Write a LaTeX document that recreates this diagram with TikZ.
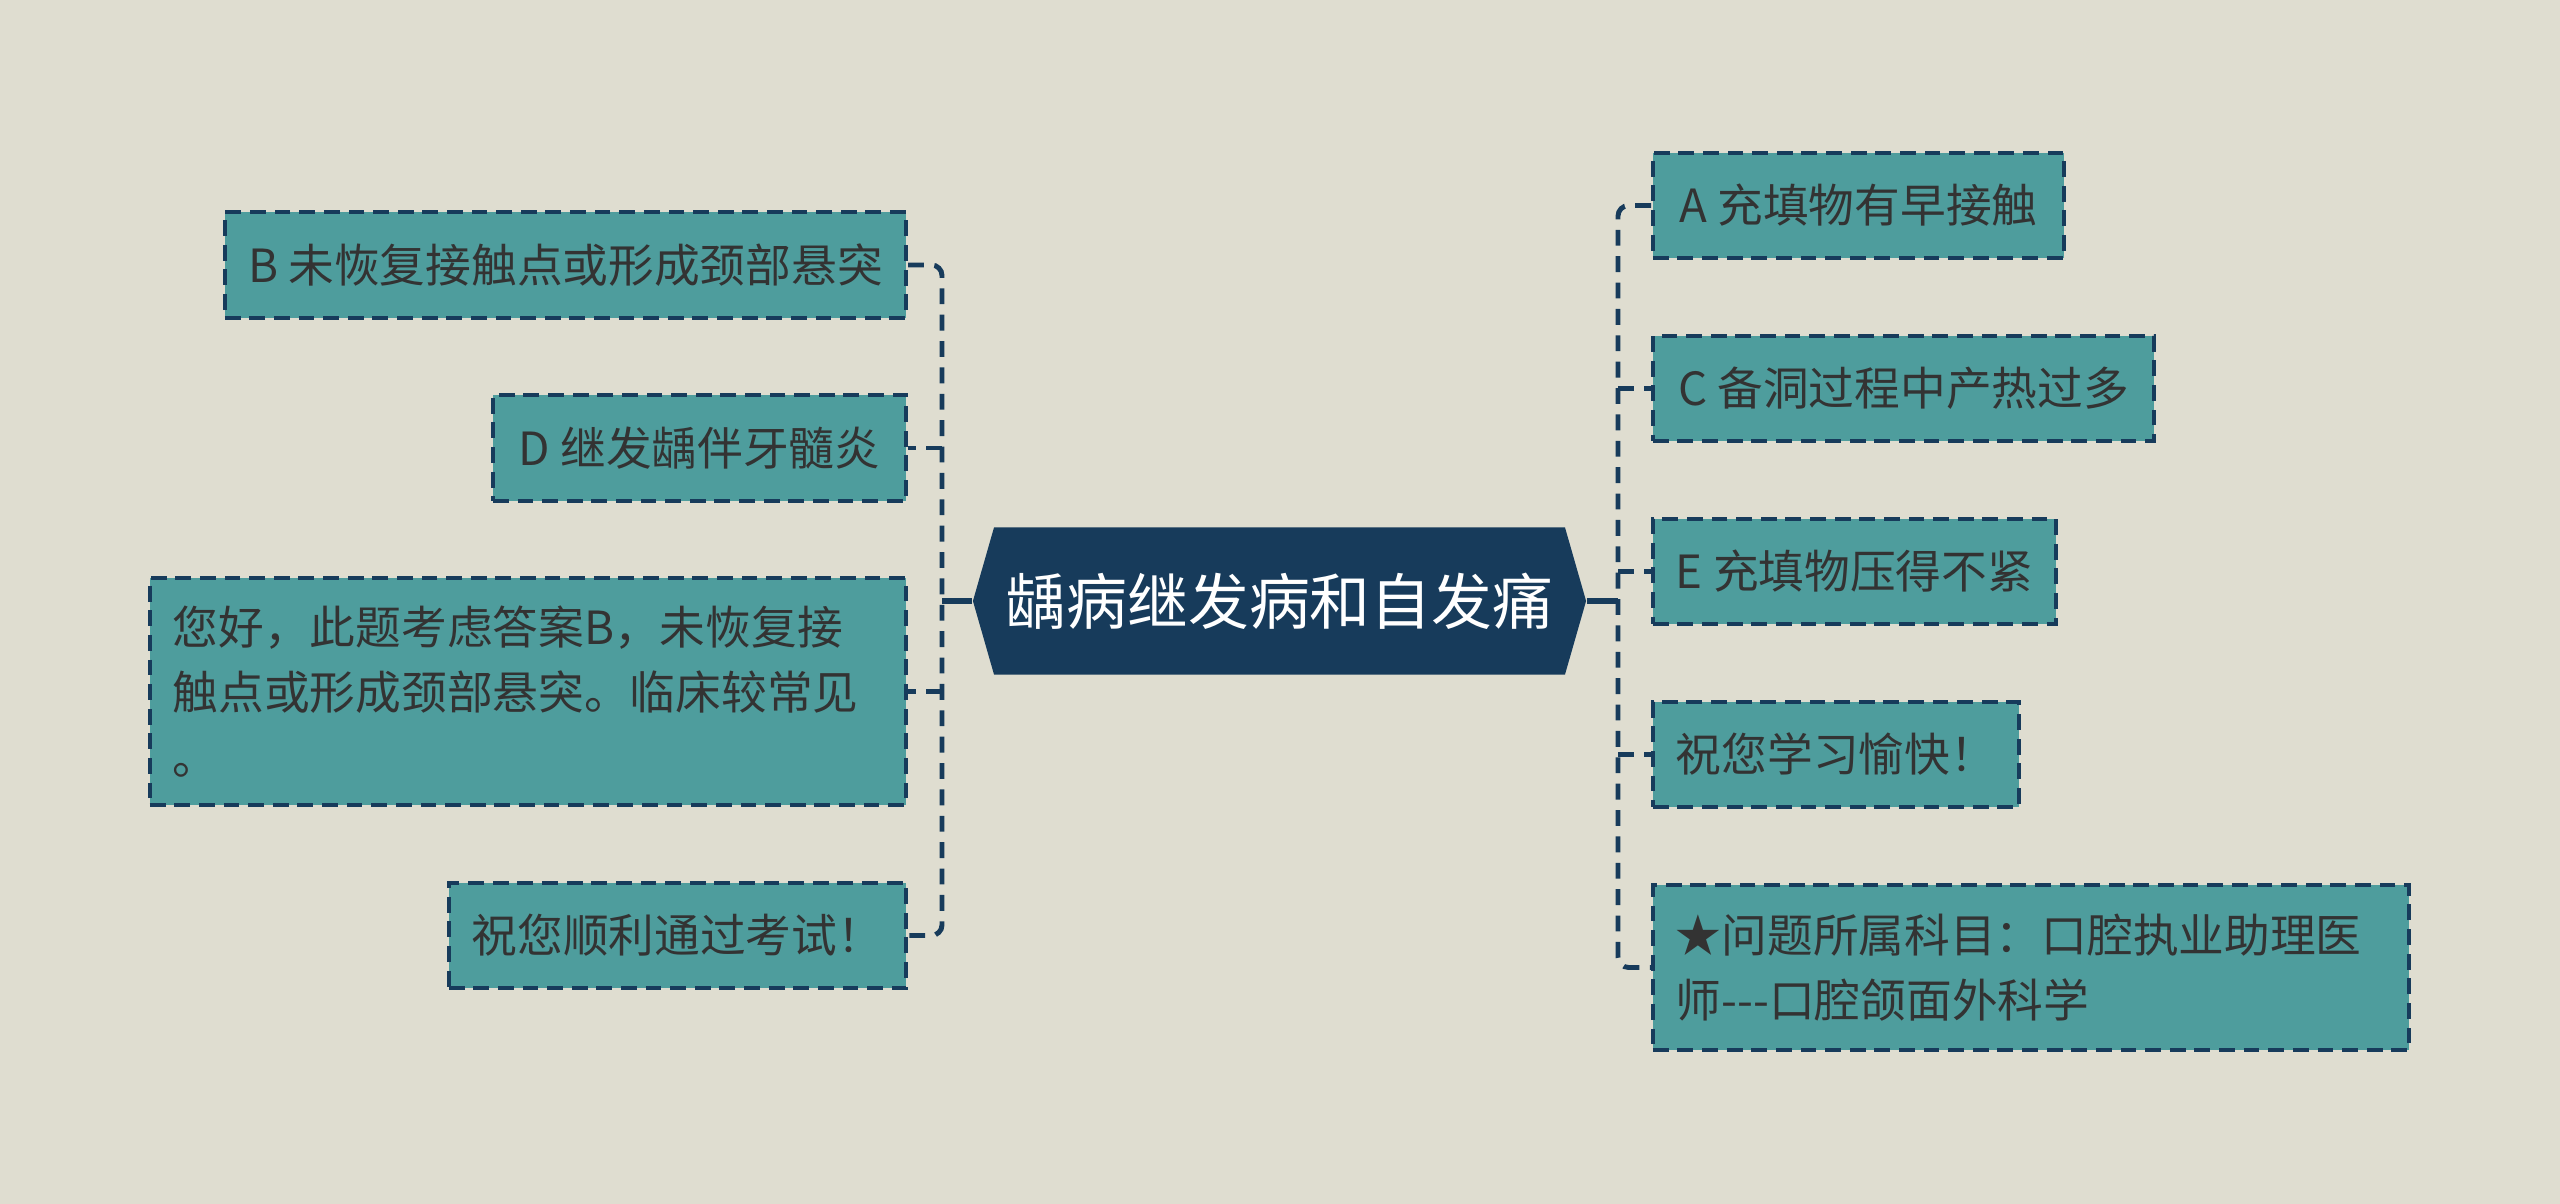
\documentclass[tikz,border=0pt]{standalone}
\usepackage{fontspec}
\setmainfont{Noto Sans CJK SC}
\usetikzlibrary{shapes.symbols}

\definecolor{bgcol}{HTML}{DFDDD0}
\definecolor{tealbox}{HTML}{4E9D9D}
\definecolor{navy}{HTML}{173B5B}
\definecolor{txtcol}{HTML}{333333}

\tikzset{
  leaf/.style={draw=navy, fill=tealbox, line width=1.05pt,
    dash pattern=on 4.5pt off 2.5pt, text=txtcol,
    font=\fontsize{13pt}{18.5pt}\selectfont, inner xsep=0.23cm, align=left},
  rootbox/.style={signal, signal to=west and east, signal pointer angle=148,
    fill=navy, text=white, font=\fontsize{17.3pt}{20pt}\selectfont,
    minimum width=6.09cm, minimum height=1.47cm},
  link/.style={navy, line width=1.4pt, dash pattern=on 4.5pt off 3pt},
}

\begin{document}
\begin{tikzpicture}[x=0.01cm, y=-0.01cm]
\fill[bgcol] (0,0) rectangle (2560,1204);
\useasboundingbox (0,0) rectangle (2560,1204);

\node[rootbox] (root) at (1279.5,601) {龋病继发病和自发痛};

% left side
\node[leaf, anchor=east, minimum width=6.81cm, minimum height=1.06cm] (b) at (908,265) {B 未恢复接触点或形成颈部悬突};
\node[leaf, anchor=east, minimum width=4.13cm, minimum height=1.06cm] (d) at (908,448) {D 继发龋伴牙髓炎};
\node[leaf, anchor=east, text width=7.1cm, minimum height=2.27cm] (hello) at (908,691.5) {您好，此题考虑答案B，未恢复接\\触点或形成颈部悬突。临床较常见\\。};
\node[leaf, anchor=east, minimum width=4.56cm, minimum height=1.05cm] (luck) at (908,935.5) {祝您顺利通过考试！};

% right side
\node[leaf, anchor=west, minimum width=4.11cm, minimum height=1.05cm] (a) at (1651,205.5) {A 充填物有早接触};
\node[leaf, anchor=west, minimum width=5.01cm, minimum height=1.05cm] (c) at (1651,388.5) {C 备洞过程中产热过多};
\node[leaf, anchor=west, minimum width=4.03cm, minimum height=1.05cm] (e) at (1651,571.5) {E 充填物压得不紧};
\node[leaf, anchor=west, minimum width=3.65cm, minimum height=1.05cm] (joy) at (1651,754.5) {祝您学习愉快！};
\node[leaf, anchor=west, text width=7.1cm, minimum height=1.65cm] (star) at (1651,967.5) {★问题所属科目：口腔执业助理医\\师-{}-{}-口腔颌面外科学};

% connectors
\coordinate (lt) at (942,601);
\coordinate (rt) at (1618,601);
\draw[navy, line width=1.5pt] (root.west) -- (lt);
\draw[navy, line width=1.5pt] (root.east) -- (rt);
\draw[link, rounded corners=3pt] (b.east) -| (lt) |- (luck.east);
\draw[link] (lt |- d.east) -- (d.east);
\draw[link] (lt |- hello.east) -- (hello.east);
\draw[link, rounded corners=3pt] (a.west) -| (rt) |- (star.west);
\foreach \n in {c,e,joy}
  \draw[link] (rt |- \n.west) -- (\n.west);
\end{tikzpicture}
\end{document}
